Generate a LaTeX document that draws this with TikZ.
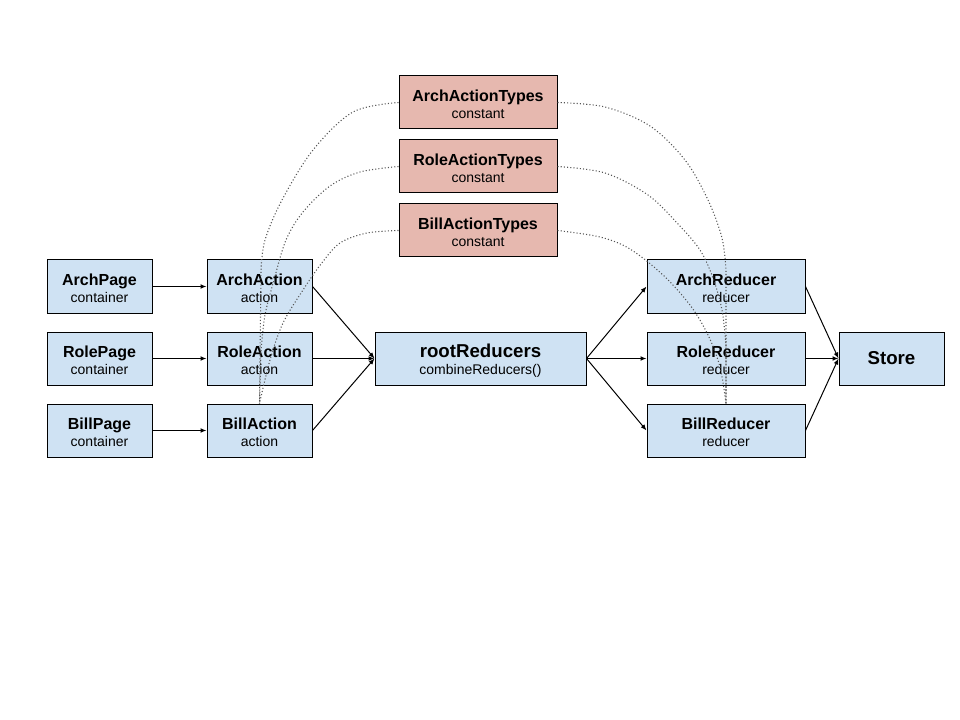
\documentclass[tikz,border=0pt]{standalone}
\usepackage{fontspec}
\setmainfont{Liberation Sans}
\usetikzlibrary{arrows.meta}
\definecolor{boxblue}{HTML}{CFE2F3}
\definecolor{boxred}{HTML}{E6B8AF}
\definecolor{dotgray}{HTML}{555555}
\newcommand\boxtitle[1]{{\fontsize{12}{13}\selectfont\bfseries\rule{0pt}{11.5pt}#1}}
\newcommand\bigtitle[1]{{\fontsize{14}{15}\selectfont\bfseries\rule{0pt}{13.5pt}#1}}
\begin{document}
\begin{tikzpicture}[x=0.75pt,y=-0.75pt,
  basebox/.style={draw=black, line width=0.75pt, align=center, inner sep=0pt,
    minimum height=39.75pt, font=\fontsize{10.5}{13}\selectfont},
  pagebox/.style={basebox, fill=boxblue, minimum width=78.75pt},
  redbox/.style={basebox, fill=boxred, minimum width=118.5pt},
  redubox/.style={basebox, fill=boxblue, minimum width=118.5pt},
  rootbox/.style={basebox, fill=boxblue, minimum width=158.25pt},
  arr/.style={line width=0.75pt, -{Latex[length=4.5pt,width=3.6pt]}},
  dots/.style={line width=0.8pt, dotgray, dash pattern=on 0.8pt off 1.6pt}]
\fill[white] (0,0) rectangle (960,720);
\useasboundingbox (0,0) rectangle (960,720);

% left column: pages
\node[pagebox] (ArchP) at (99.5,286.5) {\boxtitle{ArchPage}\\container};
\node[pagebox] (RoleP) at (99.5,358.5) {\boxtitle{RolePage}\\container};
\node[pagebox] (BillP) at (99.5,430.5) {\boxtitle{BillPage}\\container};
% actions
\node[pagebox] (ArchA) at (259.5,286.5) {\boxtitle{ArchAction}\\action};
\node[pagebox] (RoleA) at (259.5,358.5) {\boxtitle{RoleAction}\\action};
\node[pagebox] (BillA) at (259.5,430.5) {\boxtitle{BillAction}\\action};
% constants
\node[redbox] (ArchT) at (478,102.5) {\boxtitle{ArchActionTypes}\\constant};
\node[redbox] (RoleT) at (478,166.5) {\boxtitle{RoleActionTypes}\\constant};
\node[redbox] (BillT) at (478,230.5) {\boxtitle{BillActionTypes}\\constant};
% root
\node[rootbox] (root) at (480.5,358.5) {\bigtitle{rootReducers}\\combineReducers()};
% reducers
\node[redubox] (ArchR) at (726,286.5) {\boxtitle{ArchReducer}\\reducer};
\node[redubox] (RoleR) at (726,358.5) {\boxtitle{RoleReducer}\\reducer};
\node[redubox] (BillR) at (726,430.5) {\boxtitle{BillReducer}\\reducer};
% store
\node[pagebox] (Store) at (891.5,358.5) {{\fontsize{14}{15}\selectfont\bfseries Store}};

% arrows
\draw[arr] (ArchP) -- (ArchA);
\draw[arr] (RoleP) -- (RoleA);
\draw[arr] (BillP) -- (BillA);
\draw[arr] (ArchA.east) -- (root.west);
\draw[arr] (RoleA.east) -- (root.west);
\draw[arr] (BillA.east) -- (root.west);
\draw[arr] (root.east) -- (ArchR.west);
\draw[arr] (root.east) -- (RoleR.west);
\draw[arr] (root.east) -- (BillR.west);
\draw[arr] (ArchR.east) -- (Store.west);
\draw[arr] (RoleR.east) -- (Store.west);
\draw[arr] (BillR.east) -- (Store.west);

% dotted curves, left
\draw[dots] plot[smooth, tension=0.55] coordinates {(ArchT.west) (353,112) (313,150) (282,200) (265,240) (261,270)} -- (BillA.north);
\draw[dots] plot[smooth, tension=0.55] coordinates {(RoleT.west) (360,172) (330,186) (303,212) (286,240) (274,280) (265,315) (261,350)} -- (BillA.north);
\draw[dots] plot[smooth, tension=0.55] coordinates {(BillT.west) (367,233) (340,243) (321,264) (303,290) (283,323) (270,360) (BillA.north)};
% dotted curves, right
\draw[dots] plot[smooth, tension=0.55] coordinates {(ArchT.east) (605,107) (650,126) (685,160) (708,200) (722,238) (726,270)} -- (BillR.north);
\draw[dots] plot[smooth, tension=0.55] coordinates {(RoleT.east) (605,173) (648,195) (678,224) (700,250) (713,278) (722,310) (726,345)} -- (BillR.north);
\draw[dots] plot[smooth, tension=0.55] coordinates {(BillT.east) (600,237) (630,249) (663,275) (690,305) (708,335) (720,367) (BillR.north)};
\end{tikzpicture}
\end{document}
